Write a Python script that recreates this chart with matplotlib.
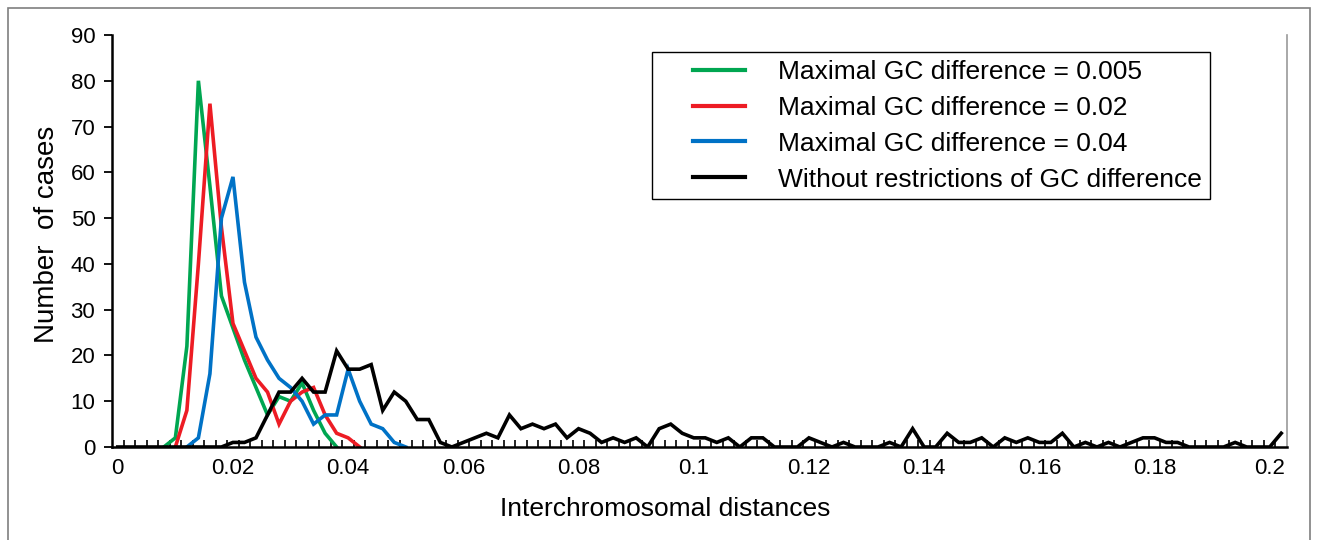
import numpy as np
import matplotlib
matplotlib.use("Agg")
import matplotlib.pyplot as plt
from matplotlib.patches import Rectangle
from matplotlib.legend_handler import HandlerLine2D

plt.rcParams['font.family'] = ['Liberation Sans', 'DejaVu Sans']

# Category axis: interchromosomal distance bins (step 0.002)
distances = np.round(np.arange(102) * 0.002, 3)

# Series values (first bin index given separately)
gc005_first = 4
gc005 = [0, 2, 22, 80, 57, 33, 26, 19, 13, 7, 11, 10, 14, 8, 3, 0]

gc002_first = 5
gc002 = [0, 8, 40, 75, 48, 27, 21, 15, 12, 5, 10, 12, 13, 7, 3, 2, 0]

gc004_first = 6
gc004 = [0, 2, 16, 50, 59, 36, 24, 19, 15, 13, 10, 5, 7, 7, 17, 10, 5, 4, 1, 0]

nores_first = 0
nores = [0, 0, 0, 0, 0, 0, 0, 0, 0,
         0, 1, 1, 2, 7, 12, 12, 15, 12, 12, 21, 17, 17, 18, 8, 12, 10, 6, 6, 1, 0,
         1, 2, 3, 2, 7, 4, 5, 4, 5, 2, 4, 3, 1, 2, 1, 2, 0, 4, 5, 3, 2, 2, 1, 2,
         0, 2, 2, 0, 0, 0, 2, 1, 0, 1, 0, 0, 0, 1, 0, 4, 0, 0, 3, 1, 1, 2, 0, 2,
         1, 2, 1, 1, 3, 0, 1, 0, 1, 0, 1, 2, 2, 1, 1, 0, 0, 0, 0, 1, 0, 0, 0, 3]

labels = ["Maximal GC difference = 0.005",
          "Maximal GC difference = 0.02",
          "Maximal GC difference = 0.04",
          "Without restrictions of GC difference"]
colors = ["#00A651", "#ED1C24", "#0072C6", "#000000"]

x_major = [0, 0.02, 0.04, 0.06, 0.08, 0.1, 0.12, 0.14, 0.16, 0.18, 0.2]
x_major_labels = ["0", "0.02", "0.04", "0.06", "0.08", "0.1", "0.12", "0.14", "0.16", "0.18", "0.2"]
y_ticks = [0, 10, 20, 30, 40, 50, 60, 70, 80, 90]


class RightLine(HandlerLine2D):
    """Legend line occupying only the right part of the handle box."""
    frac = 0.61

    def get_xdata(self, legend, xdescent, ydescent, width, height, fontsize):
        x0 = -xdescent + width * (1 - self.frac)
        x1 = -xdescent + width
        return np.array([x0, x1]), np.array([x0, x1])


fig = plt.figure(figsize=(13.18, 5.40), dpi=100)
ax = fig.add_axes([112/1318, 93/540, 1175/1318, 412/540])

series = [(gc005_first, gc005), (gc002_first, gc002), (gc004_first, gc004), (nores_first, nores)]
handles = []
for (first, vals), lab, col in zip(series, labels, colors):
    xs = distances[first:first + len(vals)]
    h, = ax.plot(xs, vals, color=col, lw=2.6, label=lab, solid_joinstyle='miter', zorder=3)
    handles.append(h)

ax.set_xlim(-0.001, 0.203)
ax.set_ylim(0, 90)
ax.set_xticks(x_major)
ax.set_xticklabels(x_major_labels)
ax.set_xticks(np.round(distances + 0.001, 4)[:-1], minor=True)
ax.tick_params(axis='x', which='major', length=0, labelsize=16, pad=8)
ax.tick_params(axis='x', which='minor', direction='in', length=5, width=1.2)
ax.set_yticks(y_ticks)
ax.tick_params(axis='y', which='major', direction='out', length=6, width=1.3, labelsize=16, pad=6)

ax.spines['top'].set_visible(False)
ax.spines['right'].set_color('#9a9a9a')
ax.spines['right'].set_linewidth(1.2)
ax.spines['left'].set_linewidth(1.8)
ax.spines['bottom'].set_linewidth(1.8)
ax.spines['bottom'].set_zorder(4)

ax.set_xlabel("Interchromosomal distances", fontsize=19)
ax.xaxis.set_label_coords(0.4706, -0.1207)
ax.set_ylabel("Number  of cases", fontsize=20)
ax.yaxis.set_label_coords(-0.0442, 0.515)

leg = ax.legend(handles=handles, labels=labels, loc='upper left',
                bbox_to_anchor=(0.4596, 0.9587), fontsize=19,
                frameon=True, fancybox=False, edgecolor='black', framealpha=1,
                handlelength=3.22, handletextpad=1.25, labelspacing=0.45,
                borderpad=0.3, borderaxespad=0,
                handler_map={h: RightLine() for h in handles})
leg.get_frame().set_linewidth(1.0)
for lh in leg.get_lines():
    lh.set_linewidth(3)

fig.patches.append(Rectangle((8/1318, -0.05), 1302/1318, (540-8)/540 + 0.05,
                             transform=fig.transFigure, fill=False,
                             edgecolor='#7f7f7f', lw=1.2))

fig.savefig("out.png", dpi=100)
